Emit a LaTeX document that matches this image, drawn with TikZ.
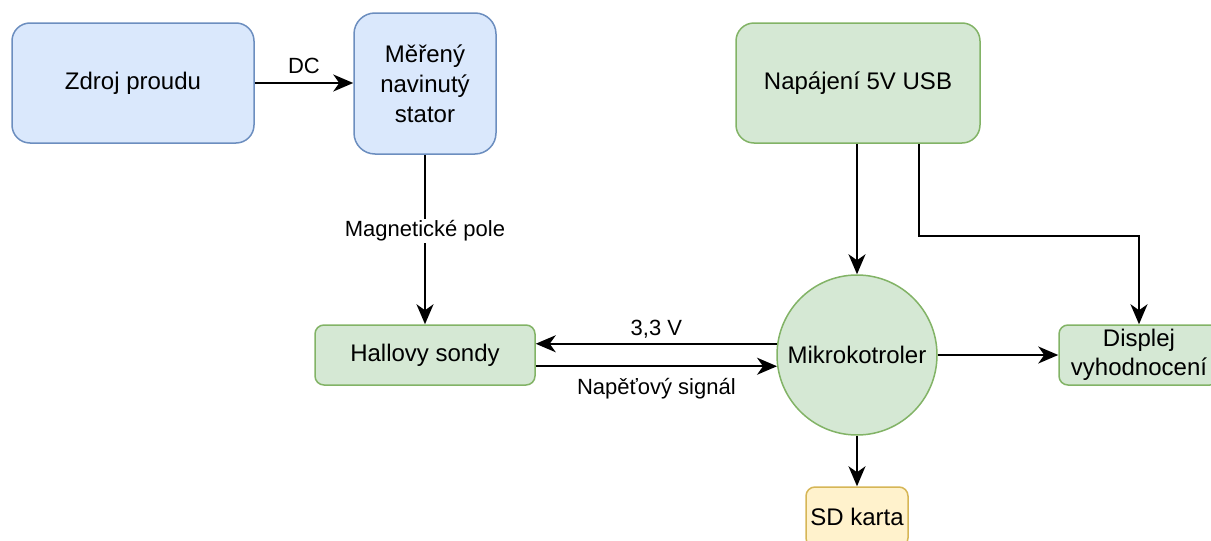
\documentclass[tikz,border=0pt]{standalone}
\usepackage{fontspec}
\setmainfont{Liberation Sans}
\usetikzlibrary{arrows.meta,calc}
\definecolor{bluefill}{HTML}{DAE8FC}
\definecolor{bluedraw}{HTML}{6C8EBF}
\definecolor{greenfill}{HTML}{D5E8D4}
\definecolor{greendraw}{HTML}{82B366}
\definecolor{yellowfill}{HTML}{FFF2CC}
\definecolor{yellowdraw}{HTML}{D6B656}
\tikzset{
  box/.style={rectangle, draw, line width=1.5pt, inner sep=0pt, align=center,
    font=\fontsize{24}{30}\selectfont},
  bluebox/.style={box, fill=bluefill, draw=bluedraw},
  greenbox/.style={box, fill=greenfill, draw=greendraw},
  yellowbox/.style={box, fill=yellowfill, draw=yellowdraw},
  conn/.style={line width=2pt, -{Stealth[length=20pt,width=17pt,inset=6pt]}},
  lbl/.style={font=\fontsize{22}{26}\selectfont, inner sep=2pt},
}
\begin{document}
\begin{tikzpicture}[x=1pt,y=-1pt]
\useasboundingbox (0,0) rectangle (1211,541);
\node[bluebox, minimum width=242pt, minimum height=120pt, rounded corners=18pt] (zdroj) at (133,83) {Zdroj proudu};
\node[bluebox, minimum width=142pt, minimum height=141pt, rounded corners=21pt] (stator) at (425,83.5) {Měřený\\navinutý\\stator};
\node[greenbox, minimum width=244pt, minimum height=120pt, rounded corners=18pt] (napajeni) at (858,83) {Napájení 5V USB};
\node[greenbox, minimum width=220pt, minimum height=60pt, rounded corners=9pt] (hall) at (425,355) {Hallovy sondy};
\node[greenbox, circle, minimum size=160pt] (mcu) at (857,355) {Mikrokotroler};
\node[greenbox, minimum width=160pt, minimum height=60pt, rounded corners=9pt, font=\fontsize{24}{29}\selectfont] (displej) at (1139,355) {Displej\\vyhodnocení};
\node[yellowbox, minimum width=102pt, minimum height=60pt, rounded corners=9pt] (sd) at (857,517) {SD karta};

\draw[conn] (zdroj.east) -- (stator.west |- zdroj.east) node[lbl, midway, above=6pt] {DC};
\draw[conn] (stator.south) -- (hall.north) node[lbl, pos=0.45, fill=white] {Magnetické pole};
\draw[conn] (napajeni.south -| mcu.north) -- (mcu.north);
\coordinate (pbend1) at ($(napajeni.south)+(61,0)$);
\coordinate (pbend2) at ($(pbend1)+(0,92)$);
\draw[conn] (pbend1) -- (pbend2) -| (displej.north);
\draw[conn] (mcu.172.8) -- (hall.east |- mcu.172.8) node[lbl, midway, above=2pt] {3,3 V};
\draw[conn] (hall.east |- mcu.188.6) -- (mcu.188.6) node[lbl, midway, below=9pt] {Napěťový signál};
\draw[conn] (mcu.east) -- (displej.west);
\draw[conn] (mcu.south) -- (sd.north);
\end{tikzpicture}
\end{document}
